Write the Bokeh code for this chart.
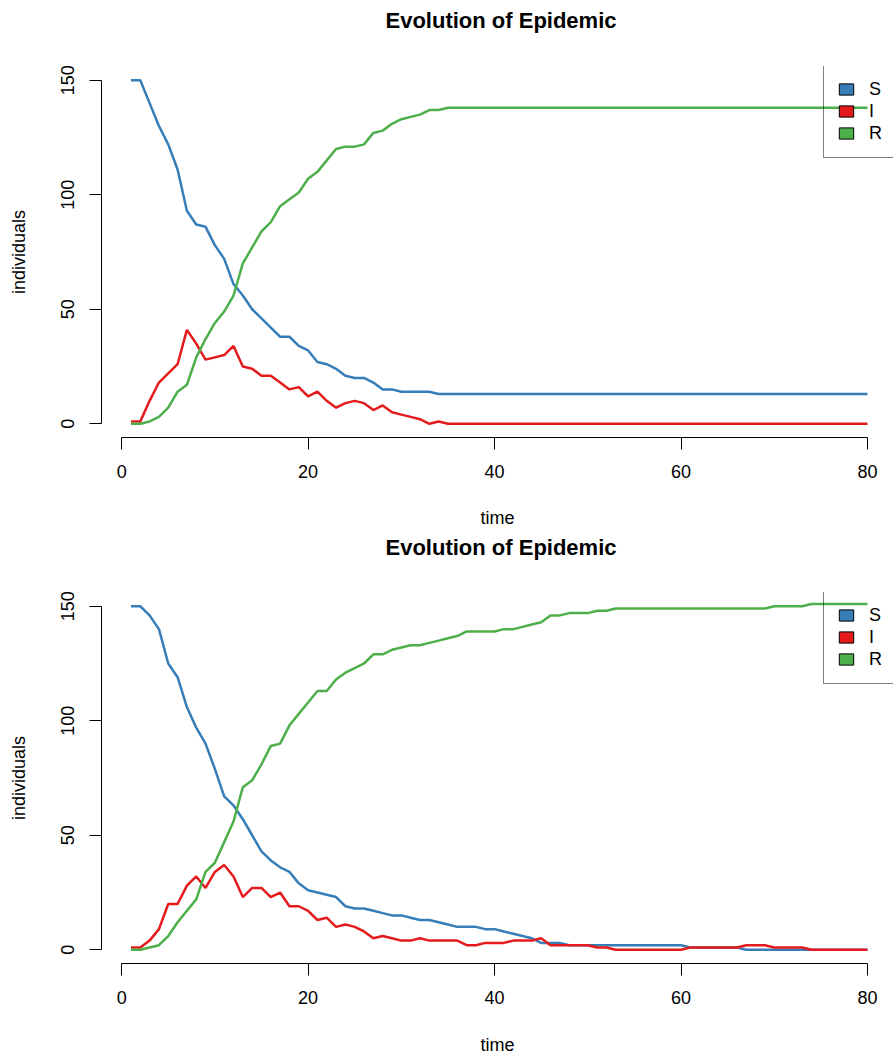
import math
from bokeh.plotting import figure
from bokeh.models import Range1d, FixedTicker, Legend, LegendItem, Title
from bokeh.layouts import column
from bokeh.embed import file_html
from bokeh.resources import INLINE

# ---------------- data ----------------
time = list(range(1, 81))

s_top = [150, 150, 140, 130, 122, 111, 93, 87, 86, 78,
         72, 61, 56, 50, 46, 42, 38, 38, 34, 32,
         27, 26, 24, 21, 20, 20, 18, 15, 15, 14,
         14, 14, 14, 13, 13, 13, 13, 13, 13, 13,
         13, 13, 13, 13, 13, 13, 13, 13, 13, 13,
         13, 13, 13, 13, 13, 13, 13, 13, 13, 13,
         13, 13, 13, 13, 13, 13, 13, 13, 13, 13,
         13, 13, 13, 13, 13, 13, 13, 13, 13, 13]
i_top = [1, 1, 10, 18, 22, 26, 41, 35, 28, 29,
         30, 34, 25, 24, 21, 21, 18, 15, 16, 12,
         14, 10, 7, 9, 10, 9, 6, 8, 5, 4,
         3, 2, 0, 1, 0, 0, 0, 0, 0, 0,
         0, 0, 0, 0, 0, 0, 0, 0, 0, 0,
         0, 0, 0, 0, 0, 0, 0, 0, 0, 0,
         0, 0, 0, 0, 0, 0, 0, 0, 0, 0,
         0, 0, 0, 0, 0, 0, 0, 0, 0, 0]
r_top = [0, 0, 1, 3, 7, 14, 17, 29, 37, 44,
         49, 56, 70, 77, 84, 88, 95, 98, 101, 107,
         110, 115, 120, 121, 121, 122, 127, 128, 131, 133,
         134, 135, 137, 137, 138, 138, 138, 138, 138, 138,
         138, 138, 138, 138, 138, 138, 138, 138, 138, 138,
         138, 138, 138, 138, 138, 138, 138, 138, 138, 138,
         138, 138, 138, 138, 138, 138, 138, 138, 138, 138,
         138, 138, 138, 138, 138, 138, 138, 138, 138, 138]

s_bot = [150, 150, 146, 140, 125, 119, 106, 97, 90, 79,
         67, 63, 57, 50, 43, 39, 36, 34, 29, 26,
         25, 24, 23, 19, 18, 18, 17, 16, 15, 15,
         14, 13, 13, 12, 11, 10, 10, 10, 9, 9,
         8, 7, 6, 5, 3, 3, 3, 2, 2, 2,
         2, 2, 2, 2, 2, 2, 2, 2, 2, 2,
         1, 1, 1, 1, 1, 1, 0, 0, 0, 0,
         0, 0, 0, 0, 0, 0, 0, 0, 0, 0]
i_bot = [1, 1, 4, 9, 20, 20, 28, 32, 27, 34,
         37, 32, 23, 27, 27, 23, 25, 19, 19, 17,
         13, 14, 10, 11, 10, 8, 5, 6, 5, 4,
         4, 5, 4, 4, 4, 4, 2, 2, 3, 3,
         3, 4, 4, 4, 5, 2, 2, 2, 2, 2,
         1, 1, 0, 0, 0, 0, 0, 0, 0, 0,
         1, 1, 1, 1, 1, 1, 2, 2, 2, 1,
         1, 1, 1, 0, 0, 0, 0, 0, 0, 0]
r_bot = [0, 0, 1, 2, 6, 12, 17, 22, 34, 38,
         47, 56, 71, 74, 81, 89, 90, 98, 103, 108,
         113, 113, 118, 121, 123, 125, 129, 129, 131, 132,
         133, 133, 134, 135, 136, 137, 139, 139, 139, 139,
         140, 140, 141, 142, 143, 146, 146, 147, 147, 147,
         148, 148, 149, 149, 149, 149, 149, 149, 149, 149,
         149, 149, 149, 149, 149, 149, 149, 149, 149, 150,
         150, 150, 150, 151, 151, 151, 151, 151, 151, 151]

series_names = ["S", "I", "R"]
series_colors = ["#377EB8", "#E41A1C", "#4DAF4A"]
x_ticks = [0, 20, 40, 60, 80]
y_ticks = [0, 50, 100, 150]
title_text = "Evolution of Epidemic"
x_label = "time"
y_label = "individuals"

FONT = "Liberation Sans"
FRAME_H = 371


def make_panel(series, height, border_top, spacer_standoff, xlab_standoff):
    p = figure(width=893, height=height, output_backend="svg", toolbar_location=None,
               title=None,
               x_range=Range1d(-2.16, 82.79), y_range=Range1d(-6, 156),
               min_border_left=101, min_border_right=0,
               min_border_top=border_top,
               min_border_bottom=height - border_top - FRAME_H,
               outline_line_color=None, background_fill_color="white",
               border_fill_color="white")
    p.grid.visible = False

    # spacer between frame and title, then the title itself
    p.add_layout(Title(text=" ", text_font_size="1px", standoff=spacer_standoff), "above")
    p.add_layout(Title(text=title_text, align="left", offset=284, standoff=0,
                       vertical_align="bottom", text_font=FONT,
                       text_font_size="22px", text_font_style="bold",
                       text_color="black"), "above")

    # axes
    for ax in (p.xaxis[0], p.yaxis[0]):
        ax.axis_line_color = "black"
        ax.axis_line_width = 1
        ax.major_tick_line_color = "black"
        ax.major_tick_out = 12
        ax.major_tick_in = 0
        ax.minor_tick_line_color = None
        ax.major_label_text_font = FONT
        ax.major_label_text_font_size = "18px"
        ax.major_label_text_color = "black"
        ax.axis_label_text_font = FONT
        ax.axis_label_text_font_size = "18px"
        ax.axis_label_text_font_style = "normal"
        ax.axis_label_text_color = "black"

    p.xaxis.ticker = FixedTicker(ticks=x_ticks)
    p.xaxis.bounds = (x_ticks[0], x_ticks[-1])
    p.xaxis.major_label_standoff = 15
    p.xaxis.axis_label = x_label
    p.xaxis.axis_label_standoff = xlab_standoff

    p.yaxis.ticker = FixedTicker(ticks=y_ticks)
    p.yaxis.bounds = (y_ticks[0], y_ticks[-1])
    p.yaxis.major_label_orientation = "vertical"
    p.yaxis.major_label_standoff = 15
    p.yaxis.axis_label = y_label
    p.yaxis.axis_label_standoff = 30

    # lines
    for vals, col in zip(series, series_colors):
        p.line(time, vals, line_color=col, line_width=2.5)

    # legend (filled boxes)
    items = []
    for name, col in zip(series_names, series_colors):
        q = p.quad(left=[math.nan], right=[math.nan], top=[math.nan], bottom=[math.nan],
                   fill_color=col, line_color="black", line_width=1)
        items.append(LegendItem(label=name, renderers=[q]))
    legend = Legend(items=items, location=(722, 279), padding=13, spacing=0,
                    glyph_width=18, glyph_height=14, label_height=22,
                    label_standoff=14, label_text_font=FONT,
                    label_text_font_size="18px", label_text_color="black",
                    border_line_color="black", border_line_width=1,
                    background_fill_alpha=0, margin=0)
    p.add_layout(legend)
    return p


p1 = make_panel([s_top, i_top, r_top], 531, 66, 31, 27)
p2 = make_panel([s_bot, i_bot, r_bot], 529, 61, 30, 28)

layout = column(p1, p2, spacing=0)
open("out.html", "w").write(file_html(layout, INLINE))
